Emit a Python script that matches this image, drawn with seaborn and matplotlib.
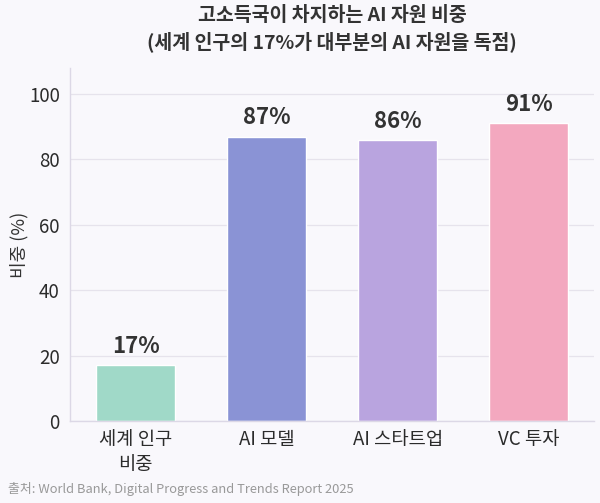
import matplotlib
matplotlib.use("Agg")
import matplotlib.pyplot as plt
import seaborn as sns
import pandas as pd

categories = ["세계 인구\n비중", "AI 모델", "AI 스타트업", "VC 투자"]
values = [17, 87, 86, 91]
colors = ["#a0d9c8", "#8a93d5", "#b9a4df", "#f3a8bf"]
yticks = [0, 20, 40, 60, 80, 100]

sns.set_theme(style="whitegrid")
plt.rcParams['font.family'] = ['Noto Sans CJK KR', 'DejaVu Sans']

bg = "#f9f8fc"
fig, ax = plt.subplots(figsize=(6, 5.03), dpi=100)
fig.patch.set_facecolor(bg)
ax.set_facecolor(bg)

df = pd.DataFrame({"cat": categories, "val": values})
sns.barplot(data=df, x="cat", y="val", hue="cat", palette=colors, width=0.6,
            legend=False, ax=ax, saturation=1)

for i, v in enumerate(values):
    ax.text(i, v + 2.2, f"{v}%", ha="center", va="bottom", fontsize=16,
            fontweight="bold", color="#333333")

ax.set_ylim(0, 108)
ax.set_xlim(-0.5, 3.5)
ax.set_yticks(yticks)
ax.set_xlabel("")
ax.set_ylabel("비중 (%)", fontsize=13, color="#333333", labelpad=0)
ax.tick_params(axis="both", labelsize=13.5, colors="#2b2b2b", length=4, color="#999999")
ax.tick_params(axis="x", pad=2)
ax.grid(axis="y", color="#e6e3ec", linewidth=0.9)
ax.grid(axis="x", visible=False)
for s in ["top", "right"]:
    ax.spines[s].set_visible(False)
for s in ["left", "bottom"]:
    ax.spines[s].set_color("#dcd8e6")
    ax.spines[s].set_linewidth(1)

ax.set_title("고소득국이 차지하는 AI 자원 비중\n(세계 인구의 17%가 대부분의 AI 자원을 독점)",
             fontsize=14, fontweight="bold", color="#333333", pad=14, linespacing=1.4)
fig.text(0.013, 0.02, "출처: World Bank, Digital Progress and Trends Report 2025",
         fontsize=9.3, color="#999999")

fig.subplots_adjust(left=0.117, right=0.99, top=0.865, bottom=0.163)
fig.savefig("out.png", dpi=100, facecolor=bg)
